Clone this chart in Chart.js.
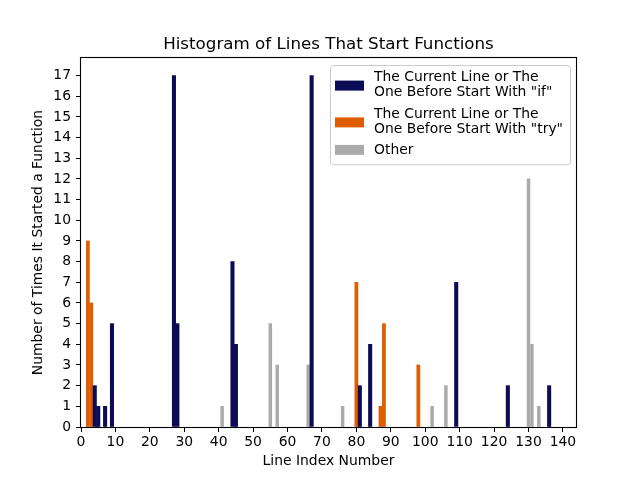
<!DOCTYPE html>
<html lang="en">
<head>
  <meta charset="UTF-8">
  <title>Histogram of Lines That Start Functions</title>
  <style>
    body { margin: 0; background: #fff; }
    #wrap { width: 640px; height: 480px; }
  </style>
</head>
<body>
  <div id="wrap"><canvas id="hist" width="640" height="480"></canvas></div>

  <script src="https://cdn.jsdelivr.net/npm/chart.js"></script>
  <script>
    // line index -> count, one pair of arrays per group
    const ifLines = [4, 5, 7, 9, 27, 28, 44, 45, 67, 81, 84, 109, 124, 136];
    const ifCounts = [2, 1, 1, 5, 17, 5, 8, 4, 17, 2, 4, 7, 2, 2];
    const tryLines = [2, 3, 80, 87, 88, 98];
    const tryCounts = [9, 6, 7, 1, 5, 3];
    const otherLines = [41, 55, 57, 66, 76, 102, 106, 130, 131, 133];
    const otherCounts = [1, 5, 3, 3, 1, 1, 2, 12, 4, 1];

    const xTicks = [0, 10, 20, 30, 40, 50, 60, 70, 80, 90, 100, 110, 120, 130, 140];
    const yTicks = [0, 1, 2, 3, 4, 5, 6, 7, 8, 9, 10, 11, 12, 13, 14, 15, 16, 17];

    const labelIf = ['The Current Line or The', 'One Before Start With "if"'];
    const labelTry = ['The Current Line or The', 'One Before Start With "try"'];
    const labelOther = ['Other'];
    const chartTitle = 'Histogram of Lines That Start Functions';
    const xTitle = 'Line Index Number';
    const yTitle = 'Number of Times It Started a Function';

    const FONT = 'DejaVu Sans';
    const NAVY = '#0b0b56';
    const ORANGE = '#e05c00';
    const GRAY = '#aaaaaa';

    function pts(xs, ys) {
      return xs.map((x, i) => ({ x: x, y: ys[i] }));
    }

    // title centred over the plot area, like matplotlib
    const titlePlugin = {
      id: 'plotTitle',
      afterDraw(chart) {
        const { ctx, chartArea } = chart;
        ctx.save();
        ctx.font = '16.7px "' + FONT + '"';
        ctx.fillStyle = '#000';
        ctx.textAlign = 'center';
        ctx.textBaseline = 'alphabetic';
        ctx.fillText(chartTitle, (chartArea.left + chartArea.right) / 2, chartArea.top - 9.5);
        ctx.restore();
      }
    };

    // black box round the axes
    const framePlugin = {
      id: 'frame',
      afterDatasetsDraw(chart) {
        const { ctx, chartArea: a } = chart;
        ctx.save();
        ctx.strokeStyle = '#000';
        ctx.lineWidth = 1.1;
        ctx.strokeRect(a.left - 0.5, a.top - 0.5, a.right - a.left + 1, a.bottom - a.top + 1);
        ctx.restore();
      }
    };

    // legend with two-line labels, upper right
    const legendPlugin = {
      id: 'mplLegend',
      afterDraw(chart) {
        const { ctx, chartArea: a } = chart;
        const sets = chart.data.datasets;
        const lineH = 15.6, gap = 5.6, fs = 13.9;
        const boxW = 240, boxR = a.right - 6, boxL = boxR - boxW, boxT = a.top + 7;
        let nLines = 0;
        sets.forEach(d => { nLines += d.legendLines.length; });
        const boxH = 6 + nLines * lineH + gap * (sets.length - 1) + 4;
        ctx.save();
        ctx.fillStyle = 'rgba(255,255,255,0.8)';
        ctx.strokeStyle = '#cccccc';
        ctx.lineWidth = 1;
        ctx.beginPath();
        ctx.roundRect(boxL + 0.5, boxT + 0.5, boxW, boxH, 3);
        ctx.fill();
        ctx.stroke();
        ctx.font = fs + 'px "' + FONT + '"';
        ctx.textBaseline = 'alphabetic';
        ctx.textAlign = 'left';
        let y = boxT + 3.5;
        sets.forEach(d => {
          const lines = d.legendLines;
          const first = y + 12.3;
          lines.forEach((t, i) => {
            ctx.fillStyle = '#000';
            ctx.fillText(t, boxL + 44, first + i * lineH);
          });
          const last = first + (lines.length - 1) * lineH;
          const mid = (first - 10 + last) / 2 + (lines.length > 1 ? 2 : 0.5);
          ctx.fillStyle = d.backgroundColor;
          ctx.fillRect(boxL + 5, mid - 5, 29, 10);
          y += lines.length * lineH + gap;
        });
        ctx.restore();
      }
    };

    const barStyle = { grouped: false, borderWidth: 0 };

    new Chart(document.getElementById('hist'), {
      type: 'bar',
      data: {
        datasets: [
          Object.assign({ label: labelIf.join(' '), legendLines: labelIf, data: pts(ifLines, ifCounts),
            backgroundColor: NAVY, barThickness: 3.4 }, barStyle),
          Object.assign({ label: labelTry.join(' '), legendLines: labelTry, data: pts(tryLines, tryCounts),
            backgroundColor: ORANGE, barThickness: 3.1 }, barStyle),
          Object.assign({ label: labelOther[0], legendLines: labelOther, data: pts(otherLines, otherCounts),
            backgroundColor: GRAY, barThickness: 2.8 }, barStyle)
        ]
      },
      options: {
        responsive: false,
        animation: false,
        events: [],
        layout: { padding: { left: 0, top: 58, right: 64, bottom: 0 } },
        plugins: {
          legend: { display: false },
          title: { display: false },
          tooltip: { enabled: false }
        },
        scales: {
          x: {
            type: 'linear',
            min: 0,
            max: 143.8,
            offset: false,
            afterFit(scale) { scale.height = 53; },
            afterBuildTicks(scale) {
              scale.ticks = xTicks.map(v => ({ value: v }));
            },
            ticks: { autoSkip: false, maxRotation: 0, minRotation: 0, color: '#000', padding: 2,
              callback: v => String(v), font: { family: FONT, size: 13.9 } },
            grid: { offset: false, drawOnChartArea: false, drawTicks: true, tickLength: 5, color: '#000', lineWidth: 1 },
            border: { display: false },
            title: { display: true, text: xTitle, color: '#000', padding: { top: 0, bottom: 10 },
              font: { family: FONT, size: 13.9 } }
          },
          y: {
            min: 0,
            max: 17.85,
            afterFit(scale) { scale.width = 81; },
            afterBuildTicks(scale) {
              scale.ticks = yTicks.map(v => ({ value: v }));
            },
            ticks: { autoSkip: false, color: '#000', padding: 5, callback: v => String(v),
              font: { family: FONT, size: 13.9 } },
            grid: { offset: false, drawOnChartArea: false, drawTicks: true, tickLength: 5, color: '#000', lineWidth: 1 },
            border: { display: false },
            title: { display: true, text: yTitle, color: '#000', padding: { top: 30, bottom: 0 },
              font: { family: FONT, size: 13.9 } }
          }
        }
      },
      plugins: [framePlugin, titlePlugin, legendPlugin]
    });
  </script>
</body>
</html>
